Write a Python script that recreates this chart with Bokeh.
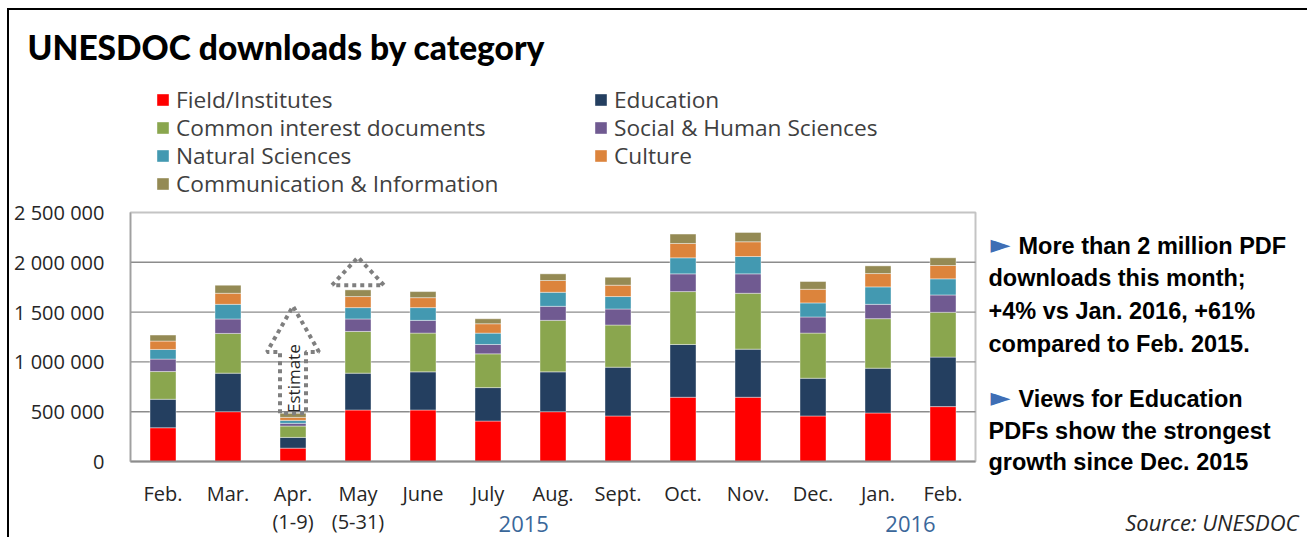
from bokeh.plotting import figure
from bokeh.models import (Range1d, FixedTicker, Legend, LegendItem, Label, ColumnDataSource)
from bokeh.embed import file_html
from bokeh.resources import INLINE

# ---------------- data ----------------
months = ["Feb.", "Mar.", "Apr.", "May", "June", "July", "Aug.", "Sept.",
          "Oct.", "Nov.", "Dec.", "Jan.", "Feb."]
month_notes = ["", "", "(1-9)", "(5-31)", "", "", "", "", "", "", "", "", ""]
years = ["2015", "2016"]

categories = ["Field/Institutes", "Education", "Common interest documents",
              "Social & Human Sciences", "Natural Sciences", "Culture",
              "Communication & Information"]

field = [339000, 500000, 134000, 517000, 517000, 406000, 500000, 457000, 645000, 645000, 457000, 487000, 551000]
education = [286000, 387000, 108000, 370000, 383000, 336000, 400000, 490000, 530000, 483000, 379000, 450000, 497000]
common = [278000, 399000, 114000, 419000, 389000, 339000, 517000, 423000, 531000, 561000, 453000, 497000, 450000]
social = [125000, 145000, 27000, 125000, 128000, 94000, 141000, 161000, 178000, 195000, 162000, 144000, 174000]
natural = [97000, 147000, 30000, 114000, 128000, 114000, 141000, 125000, 161000, 174000, 141000, 175000, 162000]
culture = [84000, 111000, 30000, 111000, 100000, 94000, 118000, 114000, 144000, 148000, 137000, 134000, 134000]
communication = [60000, 81000, 41000, 67000, 61000, 50000, 67000, 80000, 94000, 94000, 78000, 77000, 77000]

y_ticks = [0, 500000, 1000000, 1500000, 2000000, 2500000]
y_tick_labels = ["0", "500 000", "1 000 000", "1 500 000", "2 000 000", "2 500 000"]

# estimate arrows (values)
april_estimate_base = 1100000
april_estimate_tip = 1560000
may_head_base = 1770000
may_head_tip = 2050000

notes = [("►", "More than 2 million PDF"),
         ("", "downloads this month;"),
         ("", "+4% vs Jan. 2016, +61%"),
         ("", "compared to Feb. 2015."),
         ("►", "Views for Education"),
         ("", "PDFs show the strongest"),
         ("", "growth since Dec. 2015")]

colors = ["#FF0000", "#243F60", "#8AA64E", "#705A91", "#4399B1", "#DC843C", "#948A54"]

# ---------------- layout (window pixels) ----------------
CX0, CY0 = 9, 10          # canvas origin in the window (after css margin + border)
W, H = 1300, 529          # canvas size
PL, PR, PT, PB = 130, 975, 212, 461   # plot area in the window
n = len(months)
x_lo, x_hi = 0.5, n + 0.5
y_lo, y_hi = y_ticks[0], y_ticks[-1]
xpp = (x_hi - x_lo) / (PR - PL)
ypp = (y_hi - y_lo) / (PB - PT)
x_range = Range1d(x_lo - (PL - CX0) * xpp, x_hi + (CX0 + W - PR) * xpp)
y_range = Range1d(y_lo - (CY0 + H - PB) * ypp, y_hi + (PT - CY0) * ypp)


def sx(wx):
    return wx - CX0


def sy(wy):
    return CY0 + H - wy


# ---------------- figure ----------------
x_pos = list(range(1, n + 1))
keys = ["field", "education", "common", "social", "natural", "culture", "communication"]
src = ColumnDataSource(dict(x=x_pos, field=field, education=education, common=common,
                            social=social, natural=natural, culture=culture,
                            communication=communication))

p = figure(width=W, height=H, x_range=x_range, y_range=y_range, title=None,
           output_backend="svg", toolbar_location=None,
           min_border_left=0, min_border_right=0, min_border_top=0, min_border_bottom=0,
           background_fill_color="white", border_fill_color="white")
p.styles = {"margin-left": "7px", "margin-top": "8px",
            "border-left": "2px solid black", "border-top": "2px solid black"}
p.outline_line_color = None
p.xgrid.visible = False
p.ygrid.visible = False

# plot area frame and grid lines
p.quad(left=[x_lo], right=[x_hi], bottom=[y_lo], top=[y_hi], fill_alpha=0,
       line_color="#C4C4C4", line_width=2)
p.segment(x0=[x_lo] * 4, x1=[x_hi] * 4, y0=y_ticks[1:-1], y1=y_ticks[1:-1],
          line_color="#8C8C8C", line_width=1.4)

renderers = p.vbar_stack(keys, x="x", width=0.4, fill_color=colors, source=src,
                         line_color="white", line_width=0.8, line_alpha=0.5)

# axes (fixed at the plot-area edges)
p.xaxis.fixed_location = y_lo
p.xaxis.bounds = (x_lo, x_hi)
p.xaxis.ticker = FixedTicker(ticks=x_pos)
p.xaxis.major_label_overrides = {i: m for i, m in zip(x_pos, months)}
p.xaxis.major_tick_line_color = None
p.xaxis.minor_tick_line_color = None
p.xaxis.axis_line_color = "#8C8C8C"
p.xaxis.axis_line_width = 2
p.xaxis.major_label_text_font = "Open Sans"
p.xaxis.major_label_text_font_size = "20px"
p.xaxis.major_label_text_color = "#262626"
p.xaxis.major_label_standoff = 12

p.yaxis.fixed_location = x_lo
p.yaxis.bounds = (y_lo, y_hi)
p.yaxis.ticker = FixedTicker(ticks=y_ticks)
p.yaxis.major_label_overrides = {t: l for t, l in zip(y_ticks, y_tick_labels)}
p.yaxis.major_tick_line_color = None
p.yaxis.minor_tick_line_color = None
p.yaxis.axis_line_color = "#A0A0A0"
p.yaxis.axis_line_width = 1.5
p.yaxis.major_label_text_font = "Open Sans"
p.yaxis.major_label_text_font_size = "20px"
p.yaxis.major_label_text_color = "#262626"
p.yaxis.major_label_standoff = 20

# legends (one per item, 2 columns)
leg_x = [155, 593]
row_mid = [100, 128, 156, 184]
slots = [(0, 0), (1, 0), (0, 1), (1, 1), (0, 2), (1, 2), (0, 3)]
item_h = 30
for cat, r, (c, row) in zip(categories, renderers, slots):
    lg = Legend(items=[LegendItem(label=cat, renderers=[r])],
                location=(sx(leg_x[c]), sy(row_mid[row]) - item_h / 2),
                padding=0, margin=0, spacing=0, glyph_width=15, glyph_height=15,
                label_standoff=6, label_height=item_h,
                label_text_font="Open Sans", label_text_font_size="22.7px",
                label_text_color="#404040", border_line_alpha=0,
                background_fill_alpha=0)
    p.add_layout(lg, "center")

# title
p.add_layout(Label(x=sx(27), y=sy(46), x_units="screen", y_units="screen",
                   text="UNESDOC downloads by category", text_font="Lato Black",
                   text_font_style="bold", text_font_size="33.5px", text_color="black",
                   text_baseline="alphabetic"))

# month sub-notes
for xi, note in zip(x_pos, month_notes):
    if note:
        p.add_layout(Label(x=xi, y=sy(521), x_units="data", y_units="screen", text=note,
                           text_font="Open Sans", text_font_size="20px",
                           text_color="#262626", text_align="center",
                           text_baseline="middle"))

# years
for yx, yr in zip([6.55, 12.5], years):
    p.add_layout(Label(x=yx, y=sy(523), x_units="data", y_units="screen", text=yr,
                       text_font="Open Sans", text_font_size="22px",
                       text_color="#3A679A", text_align="center",
                       text_baseline="middle"))

# source
p.add_layout(Label(x=sx(1298), y=sy(521), x_units="screen", y_units="screen",
                   text="Source: UNESDOC", text_font="Open Sans",
                   text_font_style="italic", text_font_size="22px",
                   text_color="#262626", text_align="right", text_baseline="middle"))

# side commentary
baselines = [245, 277, 310, 343, 398, 430, 461]
for (mark, line), b in zip(notes, baselines):
    if mark:
        p.add_layout(Label(x=sx(990), y=sy(b) + 2, x_units="screen", y_units="screen",
                           text=mark, text_font="DejaVu Sans", text_font_size="26px",
                           text_color="#3F6EB5", text_baseline="alphabetic"))
        tx = 1018
    else:
        tx = 988
    p.add_layout(Label(x=sx(tx), y=sy(b), x_units="screen", y_units="screen", text=line,
                       text_font="Liberation Sans", text_font_style="bold",
                       text_font_size="23.5px", text_color="black",
                       text_baseline="alphabetic"))

# estimate arrow for April
apr_top = field[2] + education[2] + common[2] + social[2] + natural[2] + culture[2] + communication[2]
ax = x_pos[2]
p.line([ax - 0.2, ax - 0.2, ax - 0.4, ax, ax + 0.4, ax + 0.2, ax + 0.2, ax - 0.2],
       [apr_top, april_estimate_base, april_estimate_base, april_estimate_tip,
        april_estimate_base, april_estimate_base, apr_top, apr_top],
       line_color="#7F7F7F", line_width=4, line_dash="4 4")
p.add_layout(Label(x=ax, y=(apr_top + april_estimate_base) / 2 + 40000, x_units="data",
                   y_units="data", text="Estimate", angle=90, angle_units="deg",
                   text_font="Open Sans", text_font_size="17px", text_color="#262626",
                   text_align="center", text_baseline="middle"))

# arrow head above May
mx = x_pos[3]
p.line([mx - 0.4, mx, mx + 0.4, mx - 0.4],
       [may_head_base, may_head_tip, may_head_base, may_head_base],
       line_color="#7F7F7F", line_width=4, line_dash="4 4")

open("out.html", "w").write(file_html(p, INLINE))
